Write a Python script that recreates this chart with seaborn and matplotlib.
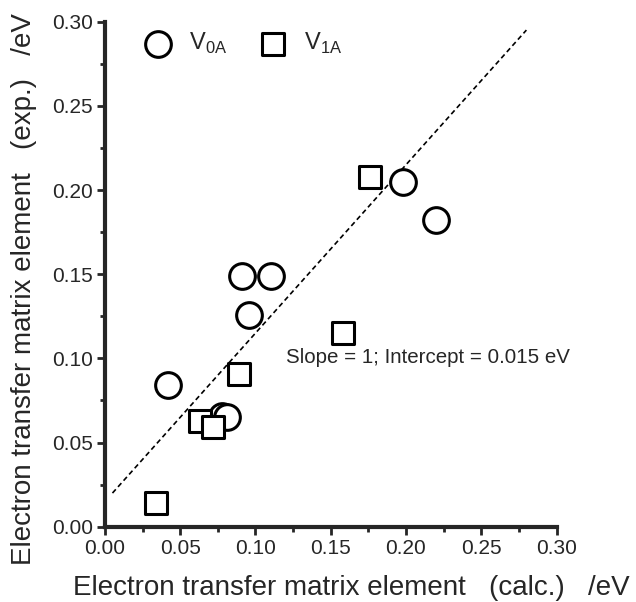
import numpy as np
import pandas as pd
import matplotlib
matplotlib.use("Agg")
import matplotlib.pyplot as plt
from matplotlib.ticker import MultipleLocator, FormatStrFormatter
import seaborn as sns

# Matrix elements (eV): calculated vs. experimental
v0a_calc = [0.042, 0.078, 0.081, 0.091, 0.110, 0.096, 0.198, 0.220]
v0a_exp = [0.084, 0.066, 0.065, 0.149, 0.149, 0.126, 0.205, 0.182]
v1a_calc = [0.034, 0.063, 0.072, 0.089, 0.158, 0.176]
v1a_exp = [0.014, 0.063, 0.059, 0.091, 0.115, 0.208]

# Reference line
fit_slope = 1.0
fit_intercept = 0.015
fit_x_range = [0.005, 0.28]

series_labels = [r"V$_{\mathregular{0A}}$", r"V$_{\mathregular{1A}}$"]

sns.set_style("ticks")
plt.rcParams["font.family"] = ["Liberation Sans", "DejaVu Sans"]

fig = plt.figure(figsize=(6.36, 6.02), dpi=100)
ax = fig.add_axes([0.165, 0.125, 0.71, 0.839])

fx = np.array(fit_x_range)
fit_df = pd.DataFrame({"x": fx, "y": fit_slope * fx + fit_intercept})
sns.lineplot(data=fit_df, x="x", y="y", ax=ax, color="black",
             linestyle=(0, (3, 2)), linewidth=1.2, zorder=1)

df0 = pd.DataFrame({"calc": v0a_calc, "exp": v0a_exp})
df1 = pd.DataFrame({"calc": v1a_calc, "exp": v1a_exp})
sns.scatterplot(data=df0, x="calc", y="exp", ax=ax, marker="o", s=18.5**2,
                facecolor="white", edgecolor="black", linewidth=2.2,
                label=series_labels[0], zorder=2)
sns.scatterplot(data=df1, x="calc", y="exp", ax=ax, marker="s", s=16.5**2,
                facecolor="white", edgecolor="black", linewidth=2.2,
                label=series_labels[1], zorder=3)

ax.set_xlim(0, 0.30)
ax.set_ylim(0, 0.30)
ax.xaxis.set_major_locator(MultipleLocator(0.05))
ax.yaxis.set_major_locator(MultipleLocator(0.05))
ax.xaxis.set_minor_locator(MultipleLocator(0.025))
ax.yaxis.set_minor_locator(MultipleLocator(0.025))
ax.xaxis.set_major_formatter(FormatStrFormatter("%.2f"))
ax.yaxis.set_major_formatter(FormatStrFormatter("%.2f"))

sns.despine(ax=ax)
for side in ("left", "bottom"):
    ax.spines[side].set_linewidth(3)
ax.tick_params(which="major", direction="out", length=5.5, width=2,
               labelsize=15, pad=3)
ax.tick_params(which="minor", direction="out", length=3.5, width=2)

ax.set_xlabel("Electron transfer matrix element   (calc.)   /eV",
              fontsize=20)
ax.set_ylabel("Electron transfer matrix element   (exp.)   /eV",
              fontsize=20)
ax.xaxis.set_label_coords(0.545, -0.095)
ax.yaxis.set_label_coords(-0.151, 0.471)

ax.text(0.12, 0.1005, "Slope = 1; Intercept = 0.015 eV", fontsize=14.8,
        va="center", ha="left")

leg = ax.legend(loc="center left", bbox_to_anchor=(0.087, 0.957), ncol=2,
                frameon=False, fontsize=17, handlelength=1.2,
                handletextpad=0.7, columnspacing=1.35, borderpad=0,
                borderaxespad=0, markerscale=1.0)

fig.savefig("out.png", dpi=100, facecolor="white")
